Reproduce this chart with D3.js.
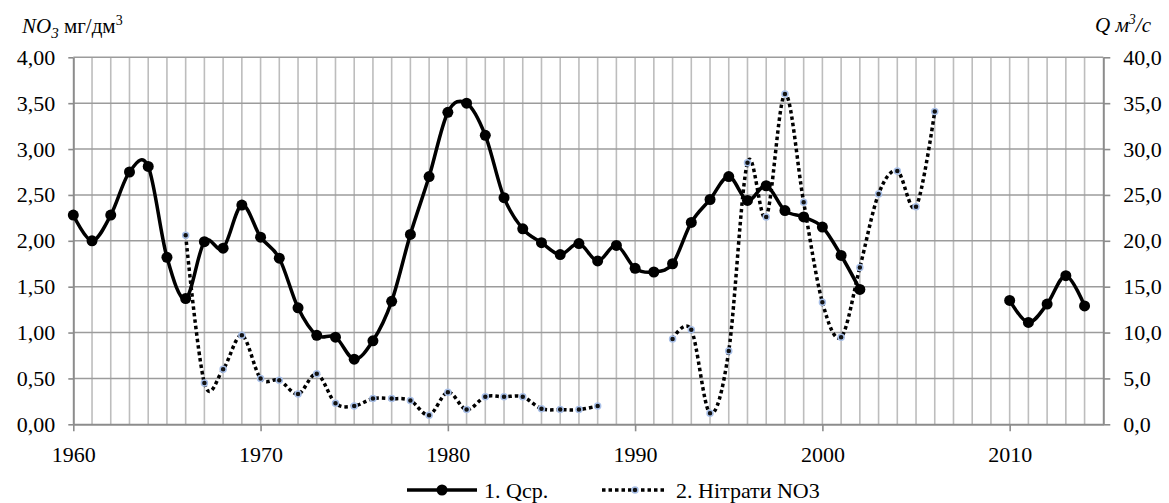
<!DOCTYPE html>
<html>
<head>
<meta charset="utf-8">
<script src="https://cdn.jsdelivr.net/npm/d3@7"></script>
<style>
  body { margin: 0; background: #fff; }
  svg text, svg tspan { font-family: "Liberation Serif", "DejaVu Serif", serif !important; }
</style>
</head>
<body>
<div id="chart"></div>
<script>
// --- data ---
const qYears = d3.range(1960, 2015);
const qValues = [22.8, 20.0, 22.8, 27.5, 28.1, 18.2, 13.7, 19.9, 19.2, 23.9,
                 20.4, 18.1, 12.7, 9.7, 9.5, 7.1, 9.1, 13.4, 20.7, 27.0,
                 34.0, 35.0, 31.5, 24.7, 21.3, 19.8, 18.5, 19.7, 17.8, 19.5,
                 17.0, 16.6, 17.5, 22.0, 24.5, 27.0, 24.4, 26.0, 23.3, 22.6,
                 21.5, 18.4, 14.7, null, null, null, null, null, null, null,
                 13.5, 11.1, 13.1, 16.2, 12.9];

const no3Years = d3.range(1966, 2007);
const no3Values = [2.06, 0.45, 0.60, 0.97, 0.50, 0.48, 0.33, 0.55, 0.23, 0.20,
                   0.28, 0.28, 0.26, 0.10, 0.35, 0.16, 0.30, 0.30, 0.30, 0.17,
                   0.16, 0.16, 0.20, null, null, null, 0.93, 1.03, 0.12, 0.80,
                   2.85, 2.26, 3.60, 2.42, 1.33, 0.95, 1.71, 2.51, 2.76, 2.37, 3.41];

const leftTicks = d3.range(0, 4.01, 0.5);
const rightTicks = d3.range(0, 40.1, 5);
const yearTicks = [1960, 1970, 1980, 1990, 2000, 2010];
const seriesNames = ["1. Qср.", "2. Нітрати NO3"];

const width = 1169, height = 503;
const plot = { left: 73.3, right: 1103.3, top: 57.3, bottom: 424.3 };
const comma = f => v => d3.format(f)(v).replace(".", ",");

const svg = d3.select("#chart").append("svg")
    .attr("width", width)
    .attr("height", height);

const x = d3.scaleLinear().domain([1960, 2015]).range([plot.left, plot.right]);
const yL = d3.scaleLinear().domain([0, 4]).range([plot.bottom, plot.top]);
const yR = d3.scaleLinear().domain([0, 40]).range([plot.bottom, plot.top]);

// vertical grid, every year
svg.append("g")
    .selectAll("line")
    .data(d3.range(1961, 2015))
    .enter().append("line")
        .attr("x1", d => x(d)).attr("x2", d => x(d))
        .attr("y1", plot.top).attr("y2", plot.bottom)
        .attr("stroke", "#bdbdbd")
        .attr("stroke-width", 1.6);

// horizontal grid
svg.append("g")
    .selectAll("line")
    .data(leftTicks.slice(1))
    .enter().append("line")
        .attr("x1", plot.left).attr("x2", plot.right)
        .attr("y1", d => yL(d)).attr("y2", d => yL(d))
        .attr("stroke", "#9c9c9c")
        .attr("stroke-width", 1.6);

function styleAxis(g) {
    g.attr("font-family", null).attr("font-size", null);
    g.select(".domain").attr("stroke", "#8c8c8c").attr("stroke-width", 2);
    g.selectAll(".tick line").attr("stroke", "#8c8c8c").attr("stroke-width", 1.6);
    g.selectAll(".tick text").attr("class", "lbl");
}

svg.append("g")
    .attr("transform", `translate(${plot.left},0)`)
    .call(d3.axisLeft(yL).tickValues(leftTicks).tickFormat(comma(".2f"))
        .tickSize(5).tickSizeOuter(0).tickPadding(13))
    .call(styleAxis);

svg.append("g")
    .attr("transform", `translate(${plot.right},0)`)
    .call(d3.axisRight(yR).tickValues(rightTicks).tickFormat(comma(".1f"))
        .tickSize(7).tickSizeOuter(0).tickPadding(13))
    .call(styleAxis);

svg.append("g")
    .attr("transform", `translate(0,${plot.bottom})`)
    .call(d3.axisBottom(x).tickValues(yearTicks).tickFormat(d3.format("d"))
        .tickSize(7).tickSizeOuter(0).tickPadding(15))
    .call(styleAxis);

// series
const qData = qYears.map((yr, i) => ({ year: yr, v: qValues[i] }));
const no3Data = no3Years.map((yr, i) => ({ year: yr, v: no3Values[i] }));

const qLine = d3.line()
    .defined(d => d.v != null)
    .x(d => x(d.year)).y(d => yR(d.v))
    .curve(d3.curveCatmullRom.alpha(0));

const no3Line = d3.line()
    .defined(d => d.v != null)
    .x(d => x(d.year)).y(d => yL(d.v))
    .curve(d3.curveCatmullRom.alpha(0));

svg.append("path")
    .datum(no3Data)
    .attr("d", no3Line)
    .attr("fill", "none")
    .attr("stroke", "#000")
    .attr("stroke-width", 3.5)
    .attr("stroke-dasharray", "3.5,3");

svg.append("path")
    .datum(qData)
    .attr("d", qLine)
    .attr("fill", "none")
    .attr("stroke", "#000")
    .attr("stroke-width", 3.5);

svg.append("g")
    .selectAll("circle")
    .data(qData.filter(d => d.v != null))
    .enter().append("circle")
        .attr("cx", d => x(d.year))
        .attr("cy", d => yR(d.v))
        .attr("r", 5.5)
        .attr("fill", "#000");

svg.append("g")
    .selectAll("circle")
    .data(no3Data.filter(d => d.v != null))
    .enter().append("circle")
        .attr("cx", d => x(d.year))
        .attr("cy", d => yL(d.v))
        .attr("r", 3)
        .attr("fill", "#111")
        .attr("stroke", "#a9c0e8")
        .attr("stroke-width", 1.5);

// axis titles
const tl = svg.append("text")
    .attr("x", 22).attr("y", 33)
    .attr("class", "ttl");
tl.append("tspan").attr("font-style", "italic").text("NO");
tl.append("tspan").attr("font-style", "italic").attr("dy", 5).attr("class", "sub").text("3");
tl.append("tspan").attr("dy", -5).text(" мг/дм");
tl.append("tspan").attr("dy", -8).attr("class", "sup").text("3");

const tr = svg.append("text")
    .attr("x", 1095).attr("y", 32)
    .attr("class", "ttl")
    .attr("font-style", "italic");
tr.append("tspan").text("Q м");
tr.append("tspan").attr("dy", -8).attr("class", "sup").text("3");
tr.append("tspan").attr("dy", 8).text("/с");

// legend
const legendY = 490;
const lg = svg.append("g");
lg.append("line")
    .attr("x1", 407).attr("x2", 477)
    .attr("y1", legendY).attr("y2", legendY)
    .attr("stroke", "#000").attr("stroke-width", 3.5);
lg.append("circle").attr("cx", 442).attr("cy", legendY).attr("r", 5.5).attr("fill", "#000");
lg.append("text").attr("class", "lbl").attr("x", 484).attr("y", legendY + 7.5).text(seriesNames[0]);

lg.append("line")
    .attr("x1", 602).attr("x2", 667)
    .attr("y1", legendY).attr("y2", legendY)
    .attr("stroke", "#000").attr("stroke-width", 3.5)
    .attr("stroke-dasharray", "3.5,3");
lg.append("circle").attr("cx", 635).attr("cy", legendY).attr("r", 3)
    .attr("fill", "#111").attr("stroke", "#a9c0e8").attr("stroke-width", 1.5);
lg.append("text").attr("class", "lbl").attr("x", 676).attr("y", legendY + 7.5).text(seriesNames[1]);

// inline !important so nothing else can override the type
const fam = "font-family: 'Liberation Serif', 'DejaVu Serif', serif !important;";
svg.selectAll("text.lbl").attr("style", fam + " font-size: 22px !important; fill: #000;");
svg.selectAll("text.ttl").attr("style", fam + " font-size: 21px !important; fill: #000;");
svg.selectAll("tspan.sub").attr("style", "font-size: 15px !important;");
svg.selectAll("tspan.sup").attr("style", "font-size: 14px !important;");
</script>
</body>
</html>
